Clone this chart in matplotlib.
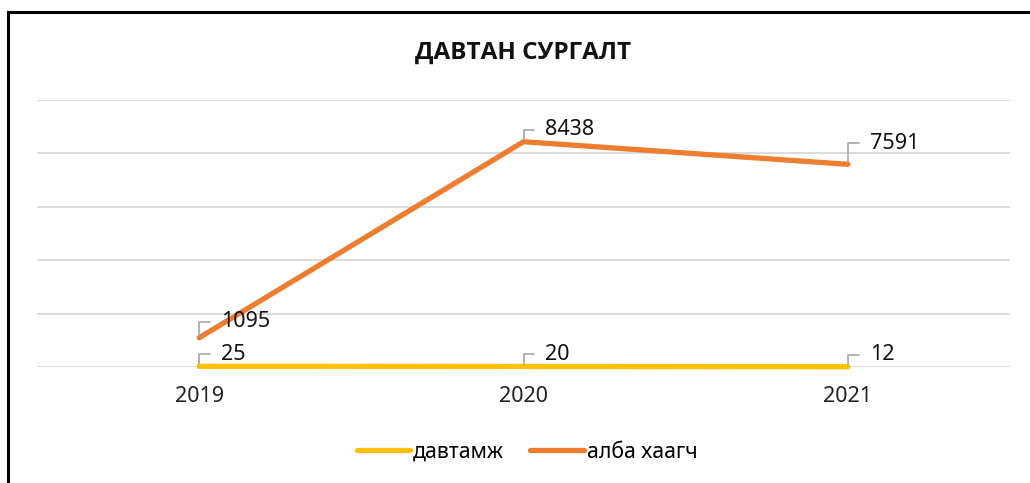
import matplotlib
matplotlib.use("Agg")
from matplotlib import pyplot as plt
from matplotlib.lines import Line2D

# data
years = ['2019', '2020', '2021']
davtamj = [25, 20, 12]
alba = [1095, 8438, 7591]
series_names = ['давтамж', 'алба хаагч']
colors = ['#FFC000', '#ED7D31']

plt.rcParams['font.family'] = ['Noto Sans', 'DejaVu Sans']

fig = plt.figure(figsize=(10.3, 4.83), dpi=100)
ax = fig.add_axes([37 / 1030, 116 / 483, 973 / 1030, 267 / 483])

x = range(len(years))
ax.plot(x, davtamj, color=colors[0], lw=3.8, solid_capstyle='round', label=series_names[0],
        zorder=3, clip_on=False)
ax.plot(x, alba, color=colors[1], lw=3.8, solid_capstyle='round', solid_joinstyle='round',
        label=series_names[1], zorder=3, clip_on=False)

ax.set_xlim(-0.5, 2.5)
ax.set_ylim(0, 10000)
ax.set_yticks(range(0, 10001, 2000))
ax.set_yticklabels([])
ax.set_xticks(list(x))
ax.set_xticklabels(years, fontsize=15.5, color='#222222')
ax.tick_params(length=0, pad=14)
ax.grid(axis='y', color='#D9D9D9', lw=1.3, zorder=0)
for s in ax.spines.values():
    s.set_visible(False)

# data labels with small grey leader lines
label_dy = [[12, 12, 12], [16, 12, 21]]
for vals, dys in zip([davtamj, alba], label_dy):
    for xi, v, dy in zip(x, vals, dys):
        ax.annotate(str(v), xy=(xi, v), xytext=(22, dy), textcoords='offset pixels',
                    ha='left', va='center', fontsize=15.5, color='#111111',
                    arrowprops=dict(arrowstyle='-', color='#A6A6A6', lw=1.2,
                                    connectionstyle='angle,angleA=0,angleB=90,rad=0',
                                    shrinkA=6, shrinkB=1.5),
                    zorder=4)

fig.text(0.508, 0.89, 'ДАВТАН СУРГАЛТ', ha='center', va='center',
         fontsize=17.5, fontweight='bold', color='#111111',
         family=['Open Sans', 'DejaVu Sans'])

ax.legend(loc='center', ncol=2, frameon=False, fontsize=15.3, handlelength=2.5,
          handletextpad=0.15, columnspacing=1.25,
          bbox_to_anchor=((527 - 37) / 973, (483 - 452 - 116) / 267))

# outer frame (only top and left visible)
fig.add_artist(Line2D([8 / 1030, 1], [1 - 12 / 483, 1 - 12 / 483], color='black', lw=2.2,
                      transform=fig.transFigure))
fig.add_artist(Line2D([8 / 1030, 8 / 1030], [0, 1 - 12 / 483], color='black', lw=2.2,
                      transform=fig.transFigure))

fig.savefig('out.png', dpi=100, facecolor='white')
